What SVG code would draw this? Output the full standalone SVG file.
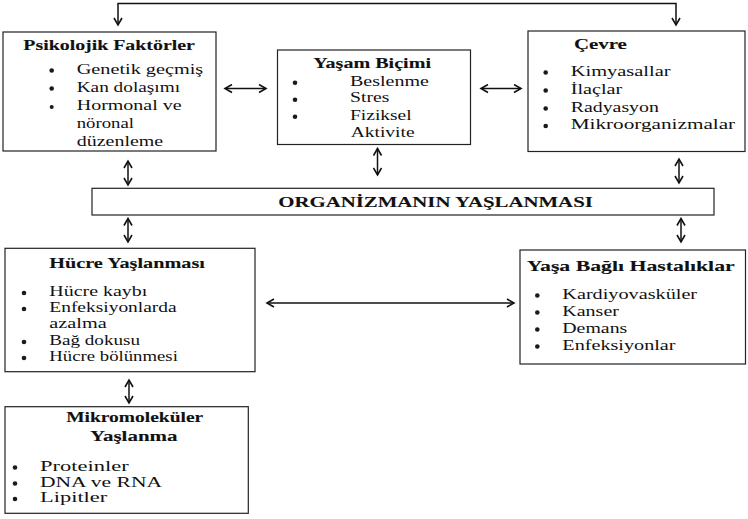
<svg xmlns="http://www.w3.org/2000/svg" width="748" height="519" viewBox="0 0 748 519">
<defs>
<marker id="ah" viewBox="0 0 10 10" refX="8" refY="5" markerWidth="10" markerHeight="10" markerUnits="userSpaceOnUse" orient="auto-start-reverse">
<path d="M1,1 L8,5 L1,9" fill="none" stroke="#111" stroke-width="1.6"/>
</marker>
<style>
.box{fill:#fff;stroke:#222;stroke-width:1.2}
.t{font-family:"Liberation Serif","Times New Roman",serif;font-size:15px;fill:#111}
.b{font-weight:bold;stroke:#111;stroke-width:0.1}
.dot{fill:#1a1a1a}
.c{fill:none;stroke:#111;stroke-width:1.5;marker-start:url(#ah);marker-end:url(#ah)}
</style>
</defs>
<rect width="748" height="519" fill="#fff"/>
<g id="connectors">
<polyline class="c" points="118,25 118,3.5 676,3.5 676,25"/>
<line class="c" x1="225" y1="88.5" x2="266" y2="88.5"/>
<line class="c" x1="481" y1="88.5" x2="521" y2="88.5"/>
<line class="c" x1="128" y1="161" x2="128" y2="185"/>
<line class="c" x1="377.5" y1="148.5" x2="377.5" y2="175"/>
<line class="c" x1="679" y1="159" x2="679" y2="183"/>
<line class="c" x1="128" y1="218.5" x2="128" y2="242"/>
<line class="c" x1="681" y1="218.5" x2="681" y2="242"/>
<line class="c" x1="267" y1="303" x2="514" y2="303"/>
<line class="c" x1="129" y1="380" x2="129" y2="403"/>
</g>
<g id="psikolojik">
<rect class="box" x="3" y="32" width="213" height="119"/>
<text class="t b" transform="translate(23.3,49.5) scale(1.325,1)">Psikolojik Faktörler</text>
<circle class="dot" cx="51.7" cy="70.5" r="2.3"/>
<circle class="dot" cx="51.7" cy="88.5" r="2.3"/>
<circle class="dot" cx="51.7" cy="107" r="2"/>
<text class="t" transform="translate(76.7,73.5) scale(1.351,1)">Genetik geçmiş</text>
<text class="t" transform="translate(76.7,91.5) scale(1.285,1)">Kan dolaşımı</text>
<text class="t" transform="translate(76.7,110) scale(1.334,1)">Hormonal ve</text>
<text class="t" transform="translate(76.7,128) scale(1.25,1)">nöronal</text>
<text class="t" transform="translate(76.7,146) scale(1.333,1)">düzenleme</text>
</g>
<g id="yasam">
<rect class="box" x="277.5" y="50" width="193" height="94.5"/>
<text class="t b" transform="translate(313.3,67.8) scale(1.339,1)">Yaşam Biçimi</text>
<circle class="dot" cx="295" cy="82.7" r="2.3"/>
<circle class="dot" cx="295" cy="99.7" r="2.3"/>
<circle class="dot" cx="295" cy="116.7" r="2.3"/>
<text class="t" transform="translate(350,85.5) scale(1.335,1)">Beslenme</text>
<text class="t" transform="translate(350,102.2) scale(1.31,1)">Stres</text>
<text class="t" transform="translate(350,119.5) scale(1.3,1)">Fiziksel</text>
<text class="t" transform="translate(350.7,136.5) scale(1.3,1)">Aktivite</text>
</g>
<g id="cevre">
<rect class="box" x="528" y="31" width="217" height="120.5"/>
<text class="t b" transform="translate(574,48.5) scale(1.391,1)">Çevre</text>
<circle class="dot" cx="545.7" cy="72.5" r="2.3"/>
<circle class="dot" cx="545.7" cy="90.5" r="2.3"/>
<circle class="dot" cx="545.7" cy="108.5" r="2.3"/>
<circle class="dot" cx="545.7" cy="126" r="2.3"/>
<text class="t" transform="translate(570.7,75.5) scale(1.364,1)">Kimyasallar</text>
<text class="t" transform="translate(570.7,93.5) scale(1.347,1)">İlaçlar</text>
<text class="t" transform="translate(570.7,111.5) scale(1.324,1)">Radyasyon</text>
<text class="t" transform="translate(570.7,129) scale(1.415,1)">Mikroorganizmalar</text>
</g>
<g id="organizma">
<rect class="box" x="92" y="188.3" width="622" height="26.7"/>
<text class="t b" transform="translate(278.3,206.5) scale(1.388,1)">ORGANİZMANIN YAŞLANMASI</text>
</g>
<g id="hucre">
<rect class="box" x="5" y="248.3" width="250" height="123.4"/>
<text class="t b" transform="translate(49.3,267.8) scale(1.349,1)">Hücre Yaşlanması</text>
<circle class="dot" cx="24" cy="293" r="2.3"/>
<circle class="dot" cx="24" cy="309" r="2.3"/>
<circle class="dot" cx="24" cy="342" r="2.3"/>
<circle class="dot" cx="24" cy="358" r="2.3"/>
<text class="t" transform="translate(49.3,296) scale(1.33,1)">Hücre kaybı</text>
<text class="t" transform="translate(49.3,312) scale(1.296,1)">Enfeksiyonlarda</text>
<text class="t" transform="translate(49.3,328) scale(1.351,1)">azalma</text>
<text class="t" transform="translate(49.3,345) scale(1.273,1)">Bağ dokusu</text>
<text class="t" transform="translate(49.3,361) scale(1.25,1)">Hücre bölünmesi</text>
</g>
<g id="hastaliklar">
<rect class="box" x="520" y="250" width="225.5" height="114"/>
<text class="t b" transform="translate(526.7,270.5) scale(1.452,1)">Yaşa Bağlı Hastalıklar</text>
<circle class="dot" cx="537.3" cy="295.5" r="2.3"/>
<circle class="dot" cx="537.3" cy="312.5" r="2.3"/>
<circle class="dot" cx="537.3" cy="329.5" r="2.3"/>
<circle class="dot" cx="537.3" cy="346.5" r="2.3"/>
<text class="t" transform="translate(562.3,298.5) scale(1.35,1)">Kardiyovasküler</text>
<text class="t" transform="translate(562.3,315.5) scale(1.334,1)">Kanser</text>
<text class="t" transform="translate(562.3,332.5) scale(1.322,1)">Demans</text>
<text class="t" transform="translate(562.3,349.5) scale(1.347,1)">Enfeksiyonlar</text>
</g>
<g id="mikromolekuler">
<rect class="box" x="5" y="406.7" width="243.3" height="106.6"/>
<text class="t b" transform="translate(66.2,422.2) scale(1.3,1)">Mikromoleküler</text>
<text class="t b" transform="translate(90.1,440.5) scale(1.4,1)">Yaşlanma</text>
<circle class="dot" cx="15" cy="467.5" r="2.3"/>
<circle class="dot" cx="15" cy="483.5" r="2.3"/>
<circle class="dot" cx="15" cy="499" r="2.3"/>
<text class="t" transform="translate(40,470.5) scale(1.5,1)">Proteinler</text>
<text class="t" transform="translate(40,486.5) scale(1.437,1)">DNA ve RNA</text>
<text class="t" transform="translate(40,502.2) scale(1.496,1)">Lipitler</text>
</g>
</svg>
